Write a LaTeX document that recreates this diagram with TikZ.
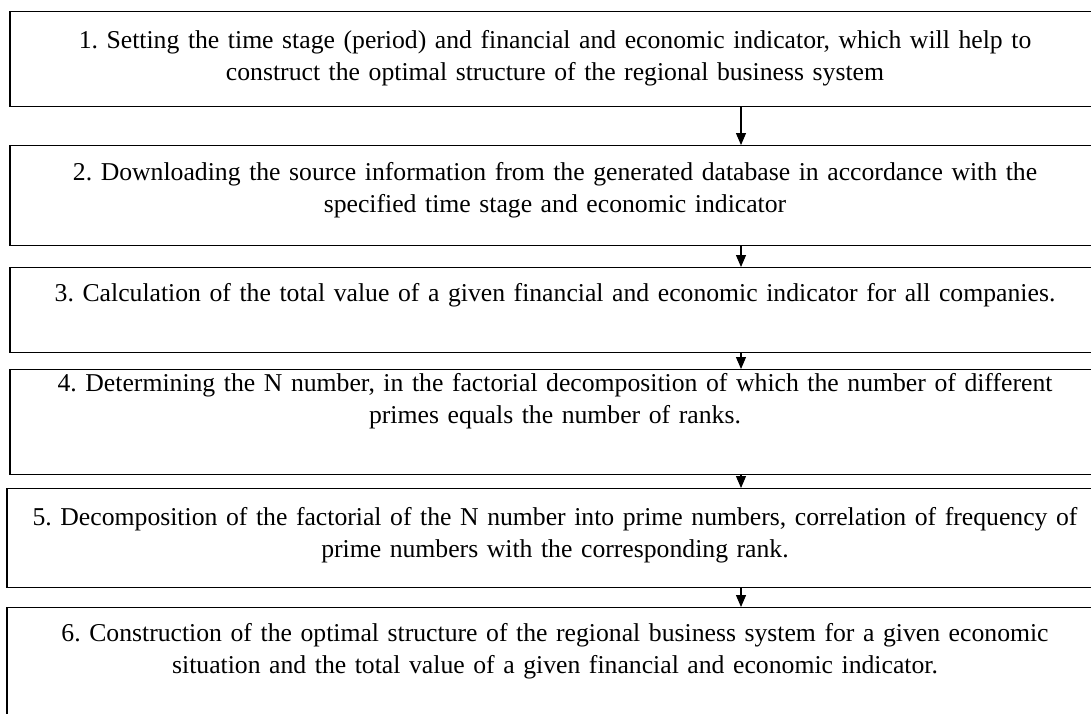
\documentclass[tikz,border=0pt]{standalone}
\usepackage{fontspec}
\setmainfont{Liberation Serif}
\frenchspacing
\usetikzlibrary{arrows.meta}
\tikzset{%
  stage/.style = {draw, line width=0.6pt, rectangle, anchor=north,
    text width=540pt, align=center, inner xsep=0pt, inner ysep=0pt,
    minimum width=545pt, font=\fontsize{12.85}{16}\selectfont},
  link/.style  = {line width=0.6pt, -{Triangle[length=6pt, width=5pt]}}
}

\begin{document}
\begin{tikzpicture}[x=0.5pt, y=-0.5pt]
        \useasboundingbox (0,0) rectangle (1091,713);
        \clip (0,0) rectangle (1091,713);
        \draw
        node at(555,11)[stage, name=Stage1, text height=18.5pt, text depth=29pt]
          {1. Setting the time stage (period) and financial and economic indicator, which will help to\\
           construct the optimal structure of the regional business system}
        node at(555,145)[stage, name=Stage2, text height=17.5pt, text depth=32.5pt]
          {2. Downloading the source information from the generated database in accordance with the\\
           specified time stage and economic indicator}
        node at(555,267)[stage, name=Stage3, text height=17pt, text depth=25.5pt]
          {3. Calculation of the total value of a given financial and economic indicator for all companies.}
        node at(555,369)[stage, name=Stage4, text height=11pt, text depth=41.5pt]
          {4. Determining the N number, in the factorial decomposition of which the number of different\\
           primes equals the number of ranks.}
        node at(555,488)[stage, name=Stage5, minimum width=548pt, text height=18.5pt, text depth=31pt]
          {5. Decomposition of the factorial of the N number into prime numbers, correlation of frequency of\\
           prime numbers with the corresponding rank.}
        node at(555,607)[stage, name=Stage6, minimum width=548pt, text height=17pt, text depth=37.5pt]
          {6. Construction of the optimal structure of the regional business system for a given economic\\
           situation and the total value of a given financial and economic indicator.};
        \coordinate (spine) at (741,0);
        \draw[link] (Stage1.south -| spine) -- (Stage2.north -| spine);
        \draw[link] (Stage2.south -| spine) -- (Stage3.north -| spine);
        \draw[link] (Stage3.south -| spine) -- (Stage4.north -| spine);
        \draw[link] (Stage4.south -| spine) -- (Stage5.north -| spine);
        \draw[link] (Stage5.south -| spine) -- (Stage6.north -| spine);
\end{tikzpicture}
\end{document}
